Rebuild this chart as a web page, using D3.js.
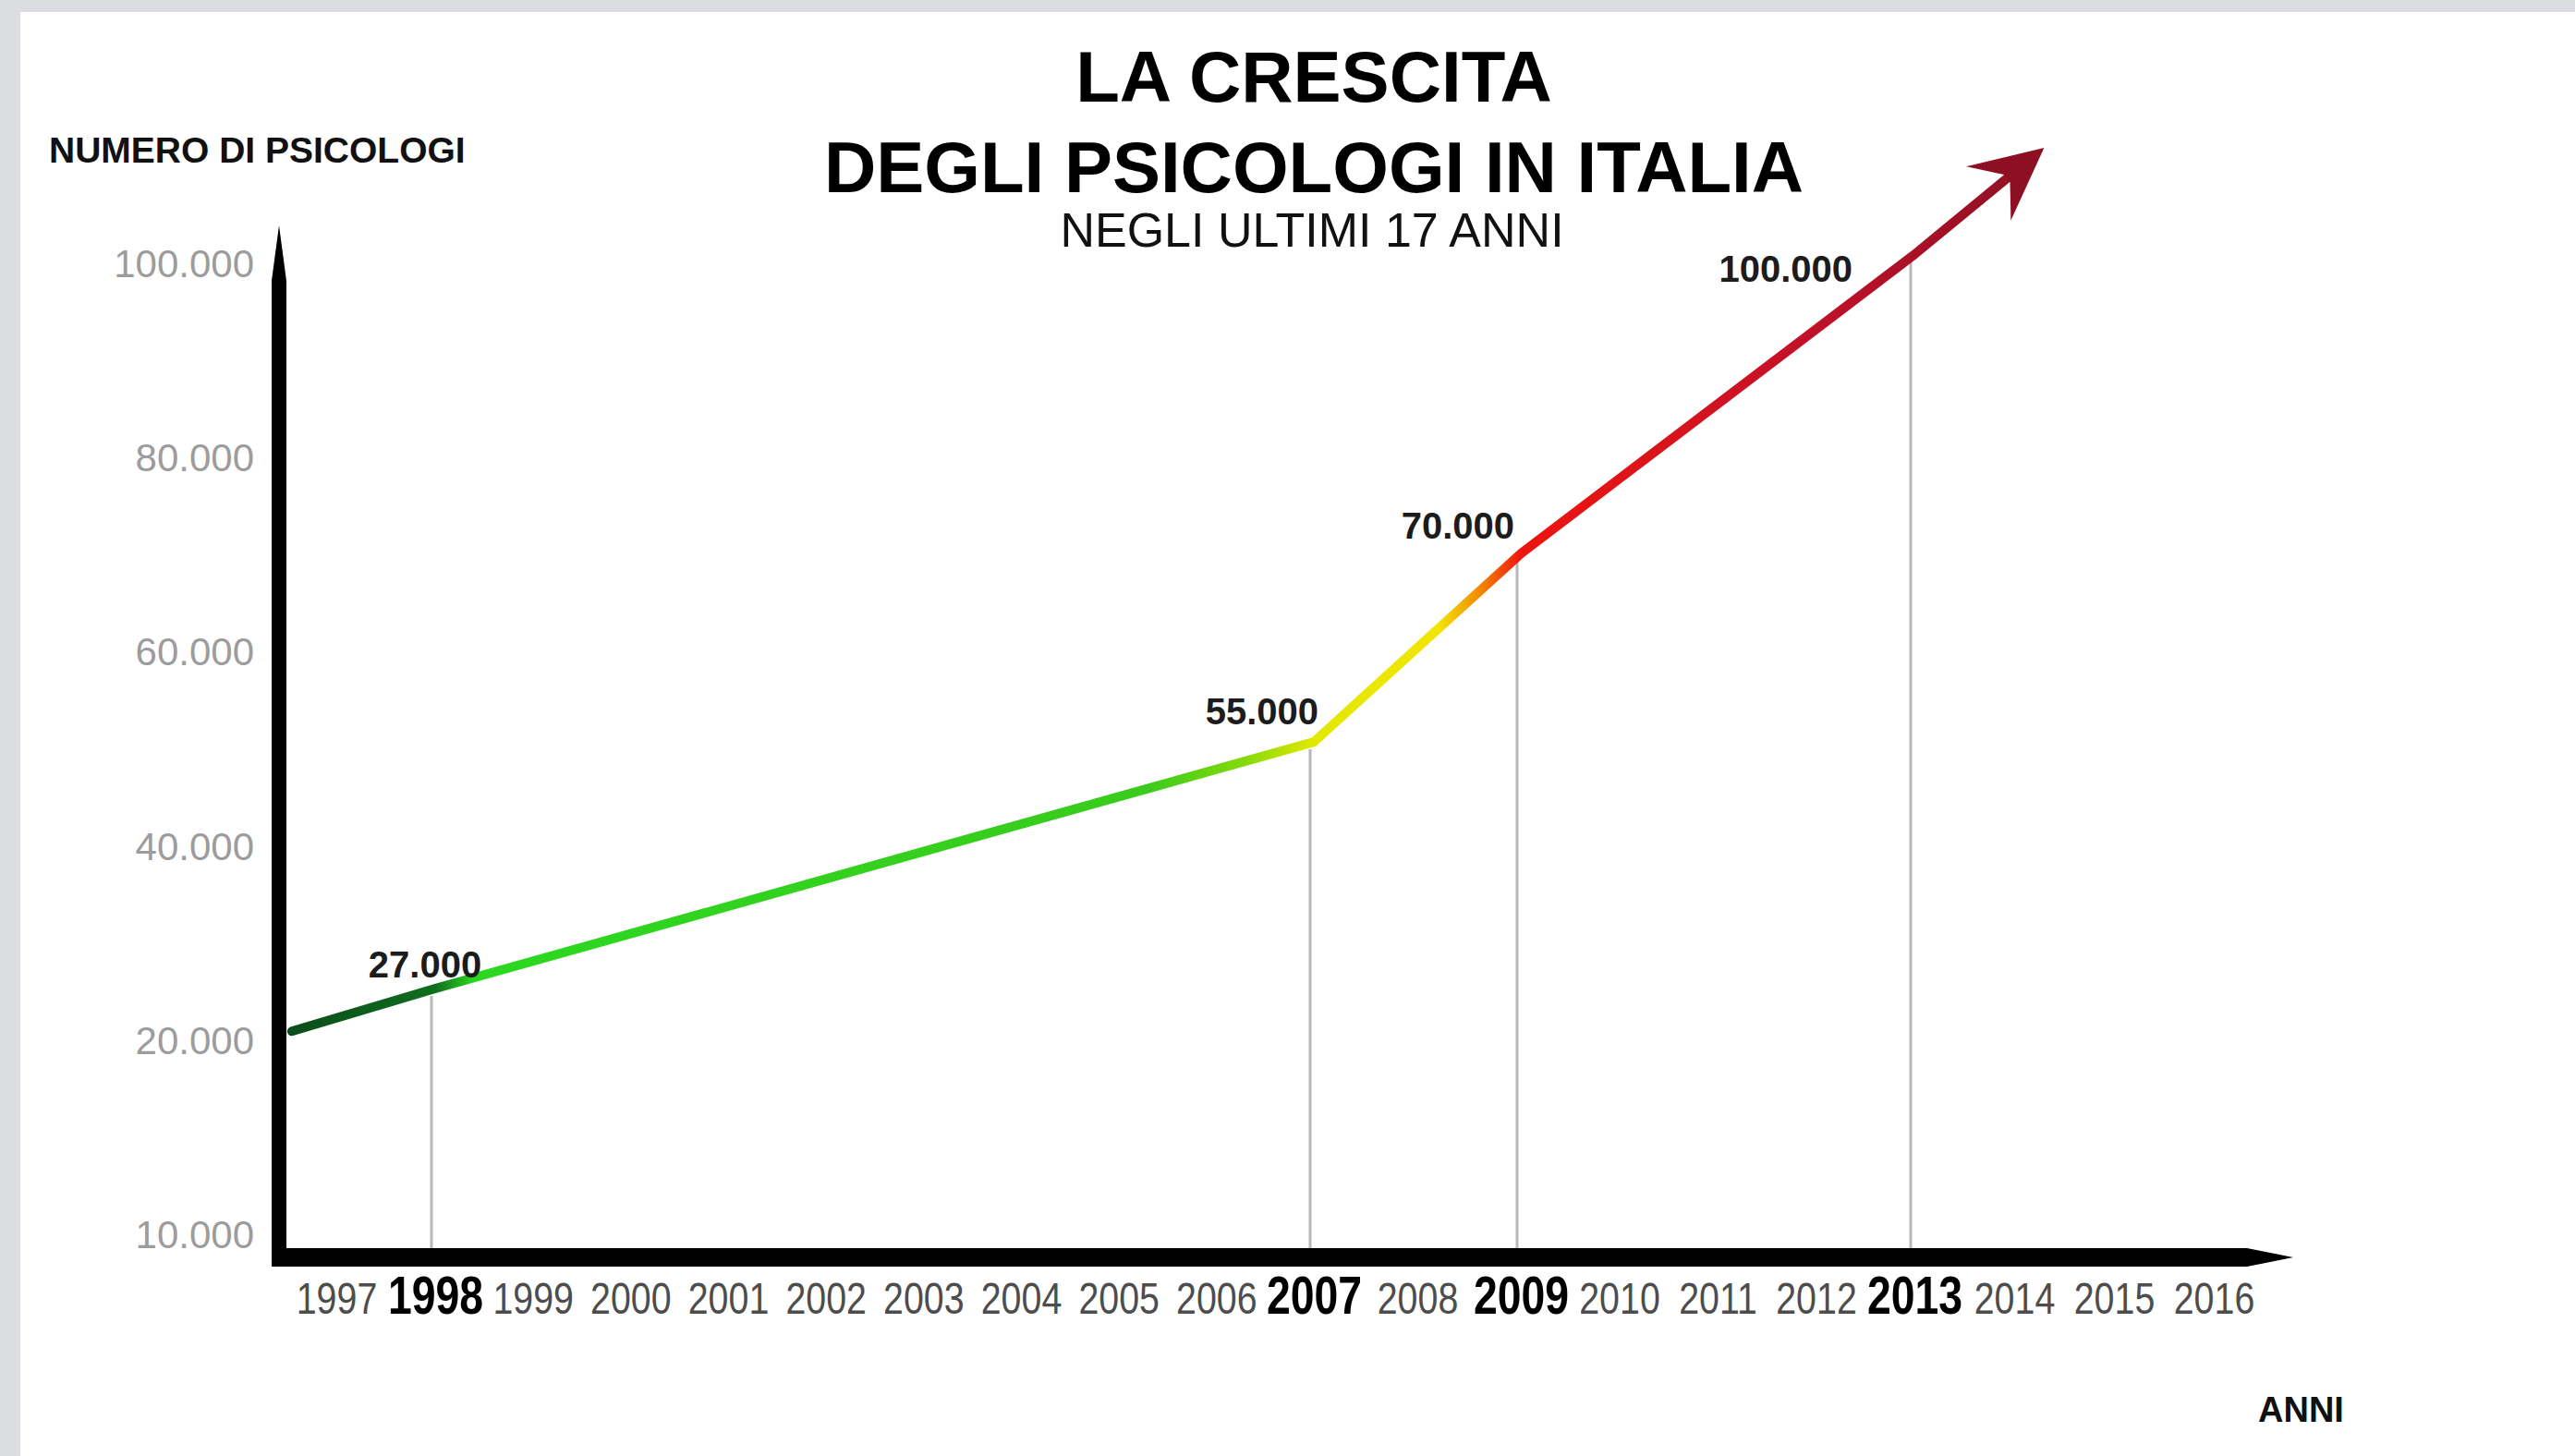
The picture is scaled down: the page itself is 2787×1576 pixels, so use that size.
<!DOCTYPE html>
<html>
<head>
<meta charset="utf-8">
<script src="https://cdn.jsdelivr.net/npm/d3@7"></script>
<style>
  html, body { margin: 0; padding: 0; background: #dcdde0; }
  svg { display: block; }
</style>
</head>
<body>
<div id="chart"></div>
<script>
// anni sull'asse x
const years = [1997, 1998, 1999, 2000, 2001, 2002, 2003, 2004, 2005, 2006,
               2007, 2008, 2009, 2010, 2011, 2012, 2013, 2014, 2015, 2016]
const boldYears = [1998, 2007, 2009, 2013]

// tacche asse y (l'ultima in basso e' etichettata 10.000 nell'originale)
const yTicks = [0, 20000, 40000, 60000, 80000, 100000]
const yTickLabels = ["10.000", "20.000", "40.000", "60.000", "80.000", "100.000"]

// linea di crescita (inizio sull'asse, fine sulla freccia)
const lineYears = [1996.55, 1998, 2007, 2009, 2013, 2014.3]
const lineValues = [21000, 25400, 50800, 70200, 101000, 112000]

// punti annotati
const markerYears = [1998, 2007, 2009, 2013]
const markerValues = [25400, 50800, 70200, 101000]
const markerLabels = ["27.000", "55.000", "70.000", "100.000"]

const width = 2787
const height = 1576

// piecewise: le etichette degli anni non sono equidistanti (quelle in grassetto sono piu larghe)
const x = d3.scaleLinear()
    .domain([1997, 1998, 2007, 2009, 2013, 2016])
    .range([364, 471, 1422, 1646, 2072, 2396])

const y = d3.scaleLinear()
    .domain([0, 100000])
    .range([1337, 286])

const axisX = 302      // posizione asse y
const axisY = 1361     // posizione asse x

const svg = d3.select("#chart")
    .append("svg")
    .attr("width", width)
    .attr("height", height)

// sfondo
svg.append("rect")
    .attr("width", width).attr("height", height)
    .attr("fill", "#dcdde0")
svg.append("rect")
    .attr("x", 22).attr("y", 13)
    .attr("width", width - 22).attr("height", height - 13)
    .attr("fill", "#ffffff")

// gradiente della linea
const gradStops = [
    { year: 1996.55, color: "#0b4d1b" },
    { year: 1998.0, color: "#0f6e1e" },
    { year: 1998.4, color: "#2bd81f" },
    { year: 2005.3, color: "#3acb1c" },
    { year: 2006.3, color: "#86da0c" },
    { year: 2007.0, color: "#e2e800" },
    { year: 2008.2, color: "#f2e600" },
    { year: 2008.6, color: "#f38a00" },
    { year: 2009.0, color: "#ee1410" },
    { year: 2010.5, color: "#d8141c" },
    { year: 2012.0, color: "#c0112a" },
    { year: 2014.3, color: "#8c1022" }
]
const x0 = x(lineYears[0]), x1 = x(lineYears[lineYears.length - 1])

const defs = svg.append("defs")
defs.append("linearGradient")
    .attr("id", "growth")
    .attr("gradientUnits", "userSpaceOnUse")
    .attr("x1", x0).attr("x2", x1)
    .attr("y1", 0).attr("y2", 0)
    .selectAll("stop")
    .data(gradStops)
    .join("stop")
    .attr("offset", d => (x(d.year) - x0) / (x1 - x0))
    .attr("stop-color", d => d.color)

defs.append("filter")
    .attr("id", "soft")
    .append("feGaussianBlur")
    .attr("stdDeviation", 3)

// linee verticali grigie
svg.append("g")
    .attr("stroke", "#b8b8b8")
    .attr("stroke-width", 3)
    .selectAll("line")
    .data(markerYears)
    .join("line")
    .attr("x1", d => x(d) - 4)
    .attr("x2", d => x(d) - 4)
    .attr("y1", (d, i) => y(markerValues[i]) + 8)
    .attr("y2", axisY - 8)

// ombra grigia sopra l'asse x
svg.append("line")
    .attr("x1", x(1998.5)).attr("x2", x(2006.6))
    .attr("y1", axisY - 11).attr("y2", axisY - 11)
    .attr("stroke", "#a0a0a0")
    .attr("stroke-width", 8)
    .attr("opacity", 0.45)
    .attr("filter", "url(#soft)")

// asse y (nero, appuntito in cima)
const yTop = y(100000) - 42
svg.append("path")
    .attr("fill", "#000")
    .attr("d", `M${axisX - 8},${axisY + 10} L${axisX - 8},${yTop + 60} L${axisX},${yTop} L${axisX + 8},${yTop + 60} L${axisX + 8},${axisY + 10} Z`)

// asse x (nero, appuntito a destra)
const xEnd = x(2016) + 86
svg.append("path")
    .attr("fill", "#000")
    .attr("d", `M${axisX - 8},${axisY - 10} L${xEnd - 50},${axisY - 10} L${xEnd},${axisY} L${xEnd - 50},${axisY + 10} L${axisX - 8},${axisY + 10} Z`)

// etichette asse y
const yAxis = svg.append("g")
    .attr("transform", `translate(${axisX},0)`)
    .call(d3.axisLeft(y)
        .tickValues(yTicks)
        .tickFormat((d, i) => yTickLabels[i])
        .tickSize(0)
        .tickPadding(27))
yAxis.select(".domain").remove()
yAxis.selectAll("text")
    .attr("font-family", "Liberation Sans, Arial, sans-serif")
    .attr("font-size", 42)
    .attr("fill", "#9c9c9c")

// etichette asse x (compresse in orizzontale come nell'originale)
const xAxis = svg.append("g")
    .attr("transform", `translate(0,${axisY})`)
    .call(d3.axisBottom(x)
        .tickValues(years)
        .tickFormat(d => String(d))
        .tickSize(0))
xAxis.select(".domain").remove()
xAxis.selectAll("text")
    .attr("font-family", "Liberation Sans, Arial, sans-serif")
    .attr("y", 61)
    .attr("dy", null)
    .attr("font-weight", d => boldYears.includes(d) ? "bold" : "normal")
    .attr("font-size", d => boldYears.includes(d) ? 58 : 48)
    .attr("fill", d => boldYears.includes(d) ? "#000" : "#4d4d4d")
    .attr("transform", d => boldYears.includes(d) ? "scale(0.8,1)" : "scale(0.82,1)")

// linea di crescita
const line = d3.line()
    .x(d => x(d[0]))
    .y(d => y(d[1]))

const path = svg.append("path")
    .datum(lineYears.map((d, i) => [d, lineValues[i]]))
    .attr("fill", "none")
    .attr("stroke", "url(#growth)")
    .attr("stroke-width", 10)
    .attr("stroke-linejoin", "round")
    .attr("stroke-linecap", "round")
    .attr("d", line)

const total = path.node().getTotalLength()
path.attr("stroke-dasharray", `${total - 40},${total}`)

// punta della freccia
const n = lineYears.length
const tipX = x(lineYears[n - 1]), tipY = y(lineValues[n - 1])
const angle = Math.atan2(tipY - y(lineValues[n - 2]), tipX - x(lineYears[n - 2])) * 180 / Math.PI
svg.append("path")
    .attr("fill", "#8c1022")
    .attr("transform", `translate(${tipX},${tipY}) rotate(${angle})`)
    .attr("d", "M0,0 L-78,-38 Q-62,-18 -52,-5 L-52,5 Q-62,18 -78,38 Z")

// etichette dei valori
const labelOffsets = [
    { anchor: "middle", dx: -11, dy: -12 },
    { anchor: "end", dx: 5, dy: -19 },
    { anchor: "end", dx: -7, dy: -16 },
    { anchor: "end", dx: -67, dy: 30 }
]
svg.append("g")
    .attr("font-family", "Liberation Sans, Arial, sans-serif")
    .attr("font-weight", "bold")
    .attr("font-size", 40)
    .attr("fill", "#1c1c1c")
    .selectAll("text")
    .data(markerLabels)
    .join("text")
    .attr("x", (d, i) => x(markerYears[i]) + labelOffsets[i].dx)
    .attr("y", (d, i) => y(markerValues[i]) + labelOffsets[i].dy)
    .attr("text-anchor", (d, i) => labelOffsets[i].anchor)
    .text(d => d)

// titoli
svg.append("text")
    .attr("x", 1422).attr("y", 110)
    .attr("text-anchor", "middle")
    .attr("font-family", "Liberation Sans, Arial, sans-serif")
    .attr("font-weight", "bold")
    .attr("font-size", 78)
    .attr("fill", "#000")
    .text("LA CRESCITA")

svg.append("text")
    .attr("x", 1422).attr("y", 208)
    .attr("text-anchor", "middle")
    .attr("font-family", "Liberation Sans, Arial, sans-serif")
    .attr("font-weight", "bold")
    .attr("font-size", 78)
    .attr("fill", "#000")
    .text("DEGLI PSICOLOGI IN ITALIA")

svg.append("text")
    .attr("x", 1420).attr("y", 267)
    .attr("text-anchor", "middle")
    .attr("font-family", "Liberation Sans, Arial, sans-serif")
    .attr("font-size", 52)
    .attr("fill", "#111")
    .text("NEGLI ULTIMI 17 ANNI")

svg.append("text")
    .attr("x", 53).attr("y", 176)
    .attr("font-family", "Liberation Sans, Arial, sans-serif")
    .attr("font-weight", "bold")
    .attr("font-size", 39)
    .attr("fill", "#111")
    .text("NUMERO DI PSICOLOGI")

svg.append("text")
    .attr("x", 2444).attr("y", 1539)
    .attr("font-family", "Liberation Sans, Arial, sans-serif")
    .attr("font-weight", "bold")
    .attr("font-size", 38)
    .attr("fill", "#111")
    .text("ANNI")
</script>
</body>
</html>
